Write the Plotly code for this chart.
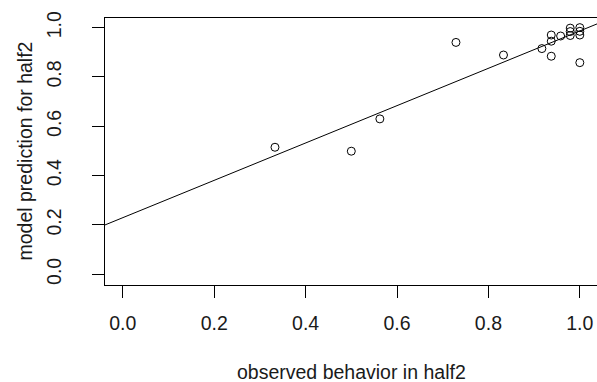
import plotly.graph_objects as go
import numpy as np

# observed behavior (x) and model prediction (y) for half2
observed = [0.333, 0.500, 0.5625, 0.729, 0.833, 0.917, 0.9375, 0.9375, 0.9375,
            0.958, 0.979, 0.979, 0.979, 1.0, 1.0, 1.0, 1.0]
predicted = [0.515, 0.499, 0.630, 0.940, 0.889, 0.915, 0.970, 0.945, 0.884,
             0.966, 0.998, 0.984, 0.968, 1.000, 0.985, 0.970, 0.858]

# regression line parameters (abline)
intercept = 0.2295
slope = 0.757

x_tick_vals = [0.0, 0.2, 0.4, 0.6, 0.8, 1.0]
x_tick_text = ["0.0", "0.2", "0.4", "0.6", "0.8", "1.0"]
y_tick_vals = [0.0, 0.2, 0.4, 0.6, 0.8, 1.0]
y_tick_text = ["0.0", "0.2", "0.4", "0.6", "0.8", "1.0"]

x_range = [-0.0389, 1.0376]
y_range = [-0.0434, 1.039]

line_x = np.array(x_range)
line_y = intercept + slope * line_x

font = "Liberation Sans, Arial, sans-serif"
fsize = 19.5

fig = go.Figure()
fig.add_trace(go.Scatter(
    x=line_x, y=line_y, mode="lines",
    line=dict(color="black", width=1), hoverinfo="skip", showlegend=False))
fig.add_trace(go.Scatter(
    x=observed, y=predicted, mode="markers",
    marker=dict(symbol="circle-open", size=8, color="black", line=dict(width=1)),
    showlegend=False))

fig.update_layout(
    width=597, height=382,
    margin=dict(l=105, r=0, t=18, b=97),
    paper_bgcolor="white", plot_bgcolor="white",
    font=dict(family=font, size=fsize, color="#1a1a1a"),
    xaxis=dict(
        range=x_range, tickvals=x_tick_vals, ticktext=x_tick_text,
        showgrid=False, zeroline=False, automargin=False,
        showline=True, linecolor="black", linewidth=1, mirror=True,
        ticks="outside", ticklen=12, tickcolor="black", tickwidth=1,
        ticklabelstandoff=9,
    ),
    yaxis=dict(
        range=y_range, tickvals=y_tick_vals, ticktext=y_tick_text,
        showgrid=False, zeroline=False, automargin=False,
        showline=True, linecolor="black", linewidth=1, mirror=False,
        ticks="outside", ticklen=12, tickcolor="black", tickwidth=1,
        tickangle=-90, ticklabelstandoff=23,
    ),
    annotations=[
        dict(text="observed behavior in half2", xref="paper", yref="paper",
             x=0.5, y=0, xanchor="center", yanchor="middle", yshift=-87,
             showarrow=False, font=dict(size=fsize)),
        dict(text="model prediction for half2", xref="paper", yref="paper",
             x=0, y=0.5, xanchor="center", yanchor="middle", xshift=-81,
             textangle=-90, showarrow=False, font=dict(size=fsize)),
    ],
)

fig.write_html("out.html", config={"displayModeBar": False},
               post_script="document.body.style.margin='0';")
